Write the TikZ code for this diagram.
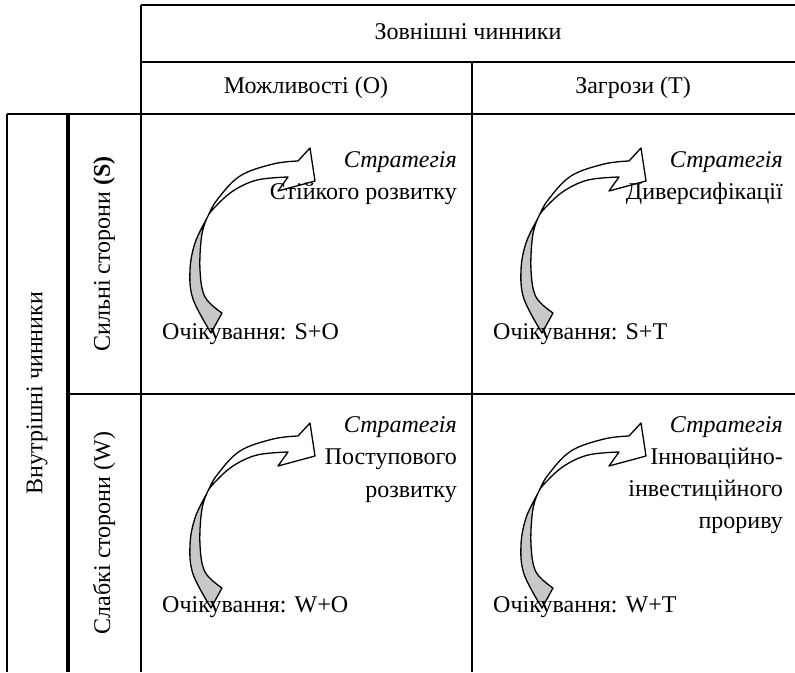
\documentclass[tikz,border=0pt]{standalone}
\usepackage{fontspec}
\setmainfont{Liberation Serif}
\definecolor{arrowgrey}{RGB}{200,200,200}
\def\crvpath{plot[smooth,tension=.6] coordinates {(70,219)(52,185)(49,156)(54,129)(66,104)(76,86)(99,62)(132,50)(157,47)} -- (169,34) -- (174,67) -- (137,77) -- plot[smooth,tension=.6] coordinates {(147,63)(116,66)(92,77)(74,93)(66,104)(60.5,123)(59,156)(64,183)(81,199)} -- cycle}
\begin{document}
\begin{tikzpicture}[x=1pt,y=-1pt,
  grid/.style={line width=1.6pt},
  thickgrid/.style={line width=3.2pt},
  txt/.style={inner sep=0pt, font=\fontsize{24}{28}\selectfont},
  lt/.style={txt, anchor=base west},
  rt/.style={txt, anchor=base east},
  crvarrow/.pic={
    \fill[white] \crvpath;
    \begin{scope}
      \clip (0,104) rectangle (200,260);
      \fill[arrowgrey] \crvpath;
    \end{scope}
    \draw[line width=1.3pt, line join=round] \crvpath;
  }]
\useasboundingbox (0,0) rectangle (795,672);
% grid
\draw[grid] (141,5) -- (795,5);
\draw[grid] (141,62) -- (795,62);
\draw[grid] (7,114) -- (795,114);
\draw[grid] (141,5) -- (141,672);
\draw[grid] (472,62) -- (472,672);
\draw[grid] (68,394) -- (795,394);
\draw[grid] (7,114) -- (7,672);
\draw[thickgrid] (68,114) -- (68,672);
% headers
\node[txt] (ext) at (468,32) {Зовнішні чинники};
\node[txt] (opp) at (306,88) {Можливості (O)};
\node[txt] (thr) at (633,88) {Загрози (T)};
\node[txt, rotate=90] (int) at (37,393) {Внутрішні чинники};
\node[txt, rotate=90] (str) at (104,254) {Сильні сторони \textbf{(S)}};
\node[txt, rotate=90] (weak) at (104,533) {Слабкі сторони (W)};
% arrows
\pic at (141,114) {crvarrow};
\pic at (472,114) {crvarrow};
\pic at (141,389) {crvarrow};
\pic at (472,389) {crvarrow};
% S+O
\node[lt] (eso) at (162,339) {Очікування: S+O};
\node[rt] (so1) at (457,167) {\textit{Стратегія}};
\node[rt] (so2) at (457,199) {Стійкого розвитку};
% S+T
\node[lt] (est) at (493,339) {Очікування: S+T};
\node[rt] (st1) at (783,167) {\textit{Стратегія}};
\node[rt] (st2) at (783,199) {Диверсифікації};
% W+O
\node[lt] (ewo) at (162,612) {Очікування: W+O};
\node[rt] (wo1) at (457,432) {\textit{Стратегія}};
\node[rt] (wo2) at (457,464) {Поступового};
\node[rt] (wo3) at (457,497) {розвитку};
% W+T
\node[lt] (ewt) at (493,612) {Очікування: W+T};
\node[rt] (wt1) at (783,432) {\textit{Стратегія}};
\node[rt] (wt2) at (783,464) {Інноваційно-};
\node[rt] (wt3) at (783,496) {інвестиційного};
\node[rt] (wt4) at (783,528) {прориву};
\end{tikzpicture}
\end{document}
